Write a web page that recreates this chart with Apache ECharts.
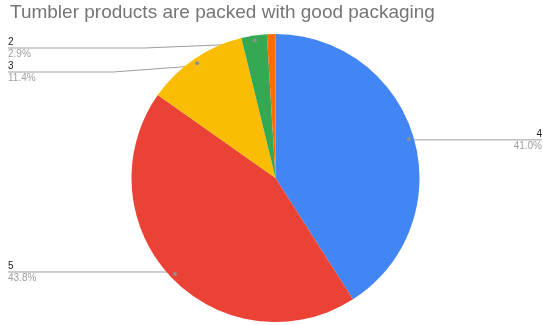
<!DOCTYPE html>
<html>
<head>
<meta charset="utf-8">
<script src="https://cdn.jsdelivr.net/npm/echarts@6/dist/echarts.min.js"></script>
<style>
  html, body { margin: 0; padding: 0; background: #ffffff; }
  #chart { width: 543px; height: 325px; }
</style>
</head>
<body>
<div id="chart"></div>
<script>
// Survey answers (1–5 scale) and how many respondents chose each
const titleText = 'Tumbler products are packed with good packaging';
const categories = ['4', '5', '3', '2', '1'];
const counts = [43, 46, 12, 3, 1];
const colors = ['#4285f4', '#ea4335', '#fbbc04', '#34a853', '#ff6d01'];
const showLabel = [true, true, true, true, false];

const total = counts.reduce((a, b) => a + b, 0);

// Geometry of the pie (pixels, relative to the series box below)
const boxTop = 36;
const pieCenter = [275.5, 178 - boxTop];
const pieRadius = 144;
const anchorRadius = 136;   // where label leader lines start, inside the slices
const bendFraction = 0.45;  // where a shifted leader line turns horizontal

const fontFamily = 'Arial, "Liberation Sans", sans-serif';
const nameColor = '#222222';
const pctColor = '#9e9e9e';
const leaderColor = '#9e9e9e';

const sliceData = categories.map((c, i) => ({
  name: c,
  value: counts[i],
  itemStyle: { color: colors[i] }
}));

// Transparent copies of the slices that carry the labels and anchor dots
const labelData = categories.map((c, i) => ({
  name: c,
  value: counts[i],
  label: { show: showLabel[i] },
  labelLine: { show: showLabel[i] }
}));

const seriesBox = { left: 0, top: boxTop, width: 550, height: 325 - boxTop };

const chart = echarts.init(document.getElementById('chart'), null, { renderer: 'canvas' });

chart.setOption({
  animation: false,
  backgroundColor: '#ffffff',
  title: {
    text: titleText,
    left: 10,
    top: 3,
    padding: 0,
    textStyle: {
      fontFamily: fontFamily,
      fontSize: 19,
      fontWeight: 'normal',
      color: '#757575'
    }
  },
  series: [
    {
      type: 'pie',
      ...seriesBox,
      center: pieCenter,
      radius: pieRadius,
      startAngle: 90,
      clockwise: true,
      silent: true,
      label: { show: false },
      labelLine: { show: false },
      emphasis: { disabled: true },
      data: sliceData
    },
    {
      type: 'pie',
      ...seriesBox,
      center: pieCenter,
      radius: anchorRadius,
      startAngle: 90,
      clockwise: true,
      silent: true,
      avoidLabelOverlap: true,
      itemStyle: { color: 'rgba(0,0,0,0)' },
      emphasis: { disabled: true },
      label: {
        position: 'outer',
        alignTo: 'edge',
        edgeDistance: 8,
        formatter: (p) => '{n|' + p.name + '}\n{p|' + (p.value / total * 100).toFixed(1) + '%}',
        rich: {
          n: { fontFamily: fontFamily, fontSize: 10, color: nameColor, lineHeight: 12 },
          p: { fontFamily: fontFamily, fontSize: 10, color: pctColor, lineHeight: 12 }
        }
      },
      labelLine: {
        length: 0,
        length2: 10,
        smooth: false,
        lineStyle: { color: leaderColor, width: 1 }
      },
      // Carry each leader line on under its label, between the name and the percentage
      labelLayout: (params) => {
        const pts = params.labelLinePoints;
        if (!pts || pts.length < 3) return {};
        const r = params.labelRect;
        const toRight = pts[2][0] >= pts[0][0];
        const farX = toRight ? r.x + r.width : r.x;
        const y = pts[2][1];
        const bendX = pts[0][0] + (farX - pts[0][0]) * bendFraction;
        return {
          labelLinePoints: [pts[0], [bendX, y], [farX, y]]
        };
      },
      data: labelData
    },
    {
      type: 'pie',
      ...seriesBox,
      center: pieCenter,
      radius: [anchorRadius - 4, anchorRadius + 4],
      startAngle: 90,
      clockwise: true,
      silent: true,
      itemStyle: { color: 'rgba(0,0,0,0)' },
      emphasis: { disabled: true },
      label: {
        position: 'inside',
        formatter: '{dot| }',
        rich: {
          dot: { width: 4, height: 4, lineHeight: 4, fontSize: 1, borderRadius: 2, backgroundColor: '#8f8f8f' }
        }
      },
      labelLine: { show: false },
      data: labelData.map(d => ({ name: d.name, value: d.value, label: { show: d.label.show } }))
    }
  ]
});
</script>
</body>
</html>
